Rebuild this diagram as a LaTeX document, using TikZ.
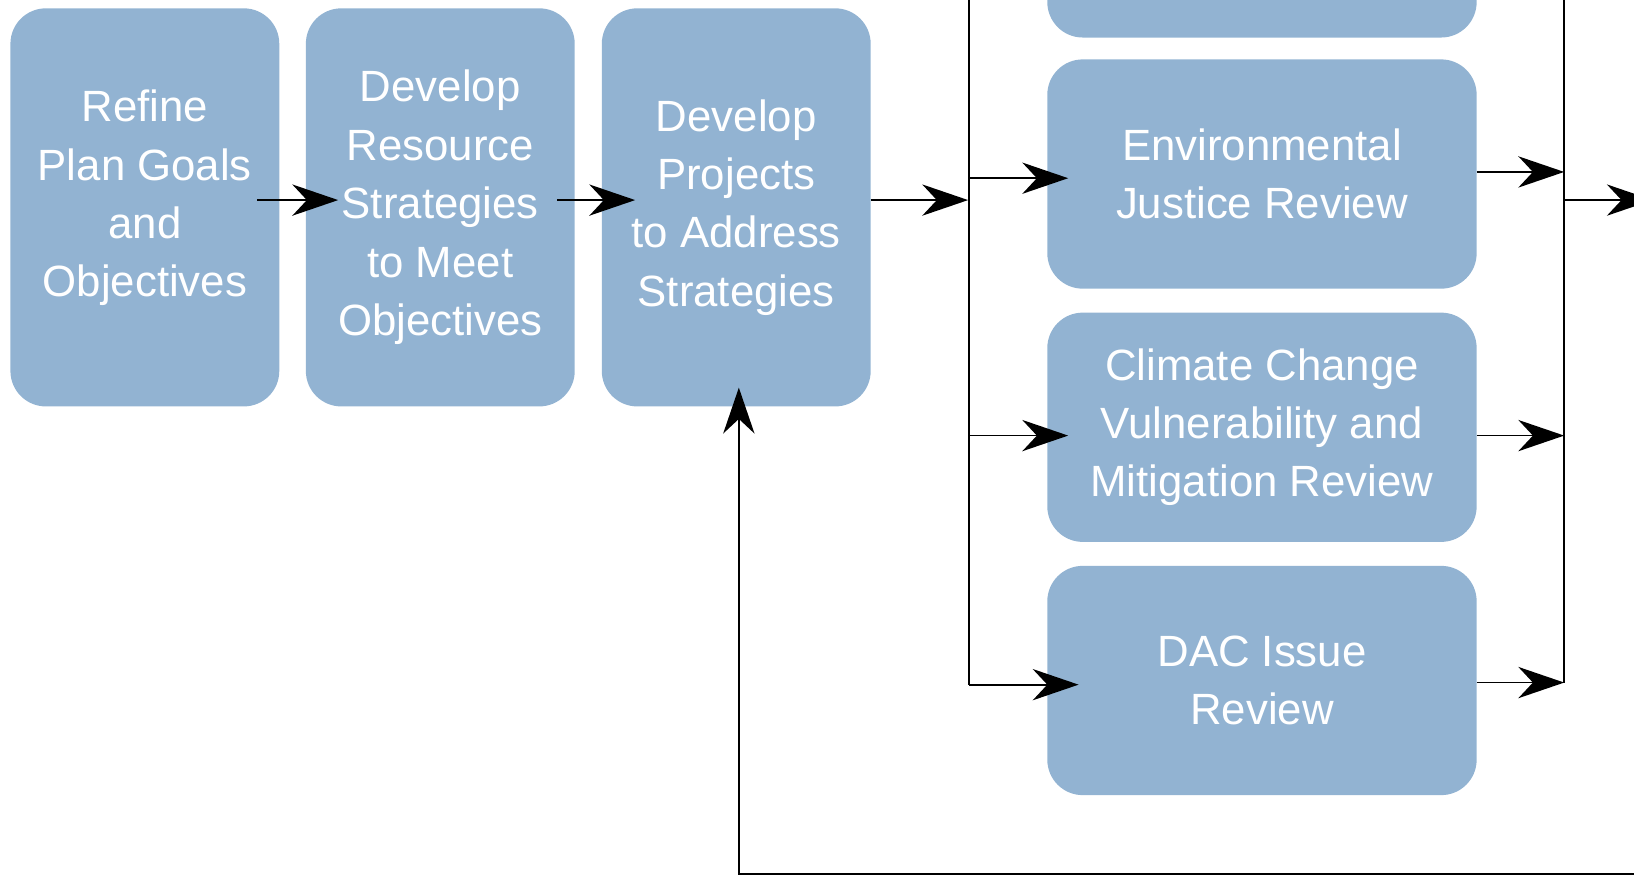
\documentclass[tikz,border=0pt]{standalone}
\usepackage{fontspec}
\setmainfont{Liberation Sans}
\usetikzlibrary{arrows.meta}
\definecolor{boxblue}{RGB}{146,179,210}
\begin{document}
\begin{tikzpicture}[x=0.5pt,y=-0.5pt,
  boxtext/.style={text=white, align=center, inner sep=0pt, outer sep=0pt,
    font=\fontsize{21}{28}\selectfont},
  box/.style={boxtext, rectangle, rounded corners=17pt, fill=boxblue, draw=none},
  tall/.style={box, minimum width=129pt, minimum height=191pt},
  wide/.style={box, minimum width=206pt, minimum height=110pt},
  conn/.style={line width=0.85pt, draw=black},
  arr/.style={conn, -{Stealth[length=22pt,width=15pt,inset=7pt]}}]
\useasboundingbox (0,0) rectangle (1568,840);
\clip (0,0) rectangle (1568,840);
% boxes
\node[tall] (b1) at (139,199) {};
\node[boxtext] (b1t) at (139,190) {Refine\\Plan Goals\\and\\Objectives};
\node[tall] (b2) at (422.5,199) {Develop\\Resource\\Strategies\\to Meet\\Objectives};
\node[tall] (b3) at (706.5,199) {Develop\\Projects\\to Address\\Strategies};
\node[wide] (top) at (1211,-74) {};
\node[wide] (env) at (1211,167) {Environmental\\Justice Review};
\node[wide] (cli) at (1211,410) {Climate Change\\Vulnerability and\\Mitigation Review};
\node[wide] (dac) at (1211,653) {DAC Issue\\Review};
% junction coordinates
\coordinate (ltop) at (930,-5);
\coordinate (lbot) at (930,657);
\coordinate (jl) at (929,192);
\coordinate (ein) at (930,171);
\coordinate (cin) at (930,418);
\coordinate (rtop) at (1501,-5);
\coordinate (rbot) at (1501,655);
\coordinate (eout) at (1501,165);
\coordinate (cout) at (1501,418);
\coordinate (jr) at (1501,192);
\coordinate (outend) at (1586,192);
\coordinate (fb) at (1580,838.5);
\coordinate (fbc) at (709,838.5);
% main chain
\draw[arr] ([shift={(-21,-7)}]b1.east) -- ([shift={(31,-7)}]b2.west);
\draw[arr] ([shift={(-17,-7)}]b2.east) -- ([shift={(32,-7)}]b3.west);
\draw[arr] ([shift={(0,-7)}]b3.east) -- (jl);
% left bus
\draw[conn] (ltop) -- (lbot);
\draw[arr] (ein) -- ([shift={(20,4)}]env.west);
\draw[arr] (cin) -- ([shift={(20,8)}]cli.west);
\draw[arr] (lbot) -- ([shift={(30,4)}]dac.west);
% right bus
\draw[conn] (rtop) -- (rbot);
\draw[arr] ([shift={(0,-2)}]env.east) -- (eout);
\draw[arr] ([shift={(0,8)}]cli.east) -- (cout);
\draw[arr] ([shift={(0,2)}]dac.east) -- (rbot);
\draw[arr] (jr) -- (outend);
% feedback
\draw[arr] (fb) -- (fbc) -- ([shift={(2.5,-18)}]b3.south);
\end{tikzpicture}
\end{document}
